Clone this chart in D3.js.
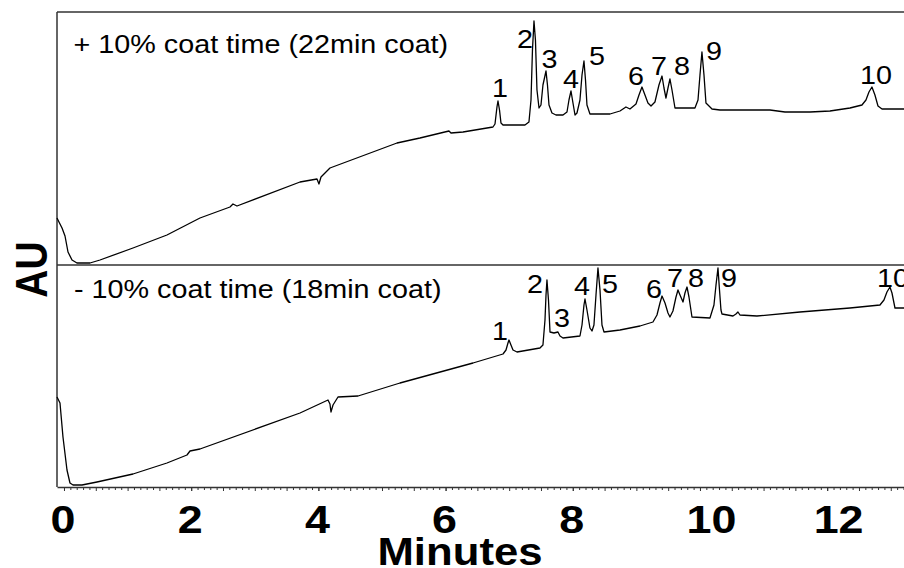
<!DOCTYPE html>
<html><head><meta charset="utf-8">
<script src="https://cdn.jsdelivr.net/npm/d3@7"></script>
<style>body{margin:0;background:#fff}</style>
</head><body><svg id="c" width="904" height="568"></svg>
<script>
// ---- data: [minutes, signal (arbitrary AU units)] ----
const topTrace = [
[-0.110,47],[-0.079,43],[-0.031,37],[0.016,29],[0.063,13],[0.126,5],[0.204,2],[0.409,2],[0.566,5],
[1.085,17],[1.619,30],[2.138,47],[2.610,58],[2.657,61],[2.720,59],[3.711,83],[3.978,86],[4.009,81],
[4.041,88],[4.182,97],[5.236,122],[5.597,127],[6.053,134],[6.085,132],[6.274,133],[6.745,138],
[6.777,141],[6.808,158],[6.824,164],[6.848,155],[6.871,142],[6.903,140],[7.248,140],[7.311,143],
[7.343,165],[7.366,215],[7.390,244],[7.413,225],[7.437,175],[7.469,157],[7.500,160],[7.531,180],
[7.579,194],[7.602,180],[7.626,160],[7.673,152],[7.736,150],[7.846,150],[7.909,153],[7.940,165],
[7.972,174],[8.003,162],[8.035,150],[8.066,152],[8.113,165],[8.145,190],[8.176,204],[8.200,185],
[8.223,160],[8.270,151],[8.585,151],[8.742,154],[8.836,158],[8.899,156],[8.994,161],[9.041,170],
[9.088,178],[9.135,170],[9.182,162],[9.230,159],[9.292,163],[9.355,180],[9.403,189],[9.434,177],
[9.465,167],[9.497,177],[9.528,186],[9.560,175],[9.607,157],[9.921,157],[9.969,165],[10.000,190],
[10.031,213],[10.063,190],[10.094,162],[10.126,160],[10.189,156],[10.314,155],[11.101,155],
[11.336,153],[11.730,153],[12.044,154],[12.358,157],[12.547,160],[12.610,165],[12.657,173],
[12.704,178],[12.751,170],[12.799,159],[12.862,156],[13.208,156]
];
const bottomTrace = [
[-0.110,90],[-0.063,84],[-0.016,50],[0.047,17],[0.094,4],[0.142,2],[0.283,2],[0.519,5],[1.085,13],
[1.619,24],[1.934,32],[1.981,36],[2.138,38],[3.711,74],[4.151,87],[4.182,83],[4.198,75],[4.230,82],
[4.308,90],[4.623,91],[5.283,104],[6.431,124],[6.903,133],[6.950,137],[6.981,144],[6.997,147],
[7.028,142],[7.060,137],[7.123,135],[7.484,139],[7.531,142],[7.563,167],[7.579,192],[7.594,207],
[7.618,187],[7.642,155],[7.704,154],[7.767,155],[7.799,151],[7.846,149],[8.113,151],[8.145,162],
[8.176,182],[8.192,188],[8.223,177],[8.270,159],[8.302,156],[8.333,162],[8.365,192],[8.396,219],
[8.428,197],[8.459,162],[8.491,155],[8.742,157],[9.057,161],[9.261,165],[9.324,172],[9.371,184],
[9.403,191],[9.450,184],[9.497,174],[9.528,170],[9.575,176],[9.623,190],[9.654,197],[9.686,192],
[9.733,185],[9.764,194],[9.796,200],[9.827,190],[9.874,170],[10.157,169],[10.220,182],[10.252,202],
[10.283,219],[10.307,197],[10.330,177],[10.346,173],[10.519,171],[10.566,173],[10.597,175],
[10.629,172],[10.896,171],[11.572,175],[12.358,179],[12.830,182],[12.893,187],[12.940,195],
[12.987,200],[13.019,194],[13.066,179],[13.208,179]
];
const peakNames = ["1","2","3","4","5","6","7","8","9","10"];
const topPeakAnchors = [[6.855,168],[7.248,217],[7.634,197],[7.972,177],[8.381,200],[8.994,180],[9.355,190],[9.717,190],[10.22,205],[12.767,181]];
const bottomPeakAnchors = [[6.855,147],[7.406,194],[7.83,160],[8.145,192],[8.585,194],[9.277,189],[9.607,200],[9.937,200],[10.456,200],[13.035,200]];
const panelTitles = ["+ 10% coat time (22min coat)", "- 10% coat time (18min coat)"];
const xTickValues = [0, 2, 4, 6, 8, 10, 12];
const xTitle = "Minutes";
const yTitle = "AU";

// ---- layout ----
const L = 57, R = 904, T = 12, M = 265, B = 487;
const SX = 1.15;
const font = "'Liberation Sans', Arial, Helvetica, sans-serif";
const x = d3.scaleLinear().domain([-0.11, 13.208]).range([L, R]);
const yT = d3.scaleLinear().domain([0, 253]).range([M, T]);
const yB = d3.scaleLinear().domain([0, 222]).range([B, M]);
const svg = d3.select("#c");
const frameColor = "#333";

// frame
svg.append("line").attr("x1", L).attr("x2", R).attr("y1", T).attr("y2", T).attr("stroke", frameColor).attr("stroke-width", 1.5);
svg.append("line").attr("x1", L).attr("x2", L).attr("y1", T).attr("y2", B).attr("stroke", frameColor).attr("stroke-width", 1.5);
svg.append("line").attr("x1", L).attr("x2", R).attr("y1", M).attr("y2", M).attr("stroke", frameColor).attr("stroke-width", 1.5);

// minor ticks axis
const minor = d3.range(0, 133).map(i => i / 10);
const gMinor = svg.append("g").attr("transform", `translate(0,${B})`)
  .call(d3.axisBottom(x).tickValues(minor).tickSize(3).tickSizeOuter(0).tickFormat(""));
gMinor.select(".domain").attr("stroke", frameColor).attr("stroke-width", 1.5);
gMinor.selectAll(".tick line").attr("stroke", frameColor).attr("stroke-width", 1)
  .attr("y2", d => (Math.round(d * 10) % 5 === 0) ? 4 : 3);

// major tick labels
const gMajor = svg.append("g").attr("transform", `translate(0,${B})`)
  .call(d3.axisBottom(x).tickValues(xTickValues).tickSize(4).tickSizeOuter(0).tickFormat(d3.format("d")));
gMajor.select(".domain").remove();
gMajor.selectAll(".tick line").attr("stroke", frameColor);
gMajor.selectAll(".tick text")
  .attr("x", 0).attr("y", 0).attr("dy", null)
  .attr("text-anchor", "start")
  .attr("transform", `translate(-14,${533 - B}) scale(${SX},1)`)
  .attr("fill", "#000")
  .style("font-family", font).style("font-size", "39px").style("font-weight", "bold");

// traces
const lineT = d3.line().x(d => x(d[0])).y(d => yT(d[1]));
const lineB = d3.line().x(d => x(d[0])).y(d => yB(d[1]));
svg.append("path").datum(topTrace).attr("d", lineT).attr("fill", "none").attr("stroke", "#000").attr("stroke-width", 1.3).attr("stroke-linejoin", "round");
svg.append("path").datum(bottomTrace).attr("d", lineB).attr("fill", "none").attr("stroke", "#000").attr("stroke-width", 1.3).attr("stroke-linejoin", "round");

function stext(str, tx, ty, size, weight, anchor, extra) {
  return svg.append("text")
    .attr("transform", `translate(${tx},${ty}) scale(${SX},1)` + (extra || ""))
    .attr("text-anchor", anchor)
    .style("font-family", font).style("font-size", size + "px").style("font-weight", weight)
    .attr("fill", "#000").text(str);
}

// panel titles
stext(panelTitles[0], 73.5, 53, 25, "normal", "start");
stext(panelTitles[1], 74, 298, 25, "normal", "start");

// peak labels
peakNames.forEach((n, i) => {
  stext(n, x(topPeakAnchors[i][0]), yT(topPeakAnchors[i][1]), 25, "normal", "middle");
  stext(n, x(bottomPeakAnchors[i][0]), yB(bottomPeakAnchors[i][1]), 25, "normal", "middle");
});

// axis titles
stext(xTitle, 460, 565, 38, "bold", "middle");
stext(yTitle, 47, 269.5, 39, "bold", "middle", " rotate(-90)");
</script></body></html>
